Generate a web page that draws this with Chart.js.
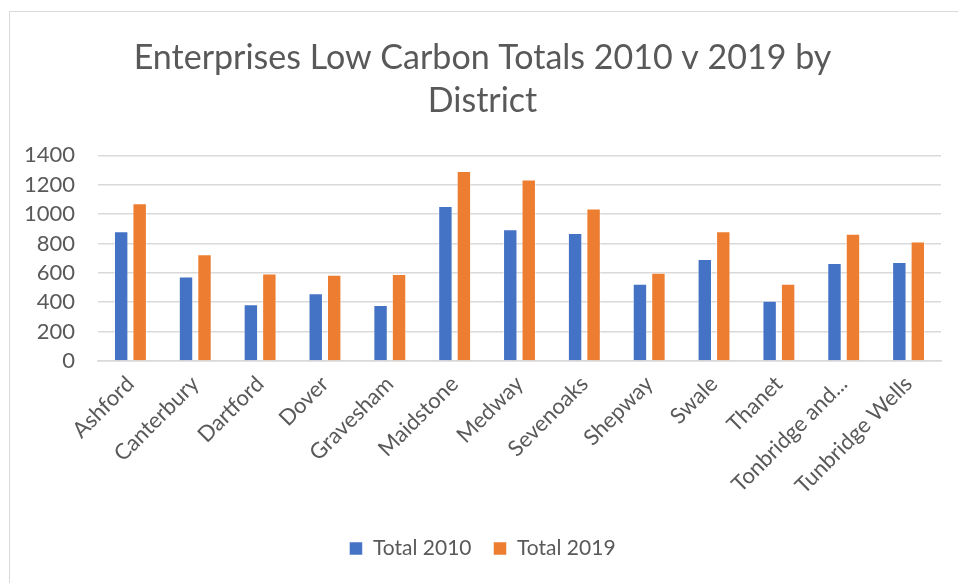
<!DOCTYPE html>
<html>
<head>
<meta charset="utf-8">
<script src="https://cdn.jsdelivr.net/npm/chart.js@4"></script>
<style>
  html, body { margin: 0; padding: 0; background: #fff; }
  #wrap { position: relative; width: 958px; height: 583px; }
  #frame { position: absolute; left: 9px; top: 11px; width: 960px; height: 590px; border: 1px solid #d9d9d9; box-sizing: border-box; }
  canvas { position: absolute; left: 0; top: 0; }
</style>
</head>
<body>
<div id="wrap">
  <div id="frame"></div>
  <canvas id="chart" width="958" height="583"></canvas>
</div>
<script>
const districts = ['Ashford', 'Canterbury', 'Dartford', 'Dover', 'Gravesham', 'Maidstone', 'Medway',
  'Sevenoaks', 'Shepway', 'Swale', 'Thanet', 'Tonbridge and...', 'Tunbridge Wells'];
const total2010 = [883, 576, 387, 462, 382, 1056, 897, 872, 526, 694, 410, 667, 674];
const total2019 = [1074, 726, 596, 587, 592, 1293, 1236, 1038, 601, 883, 526, 867, 813];
const yTicks = [0, 200, 400, 600, 800, 1000, 1200, 1400];

const textColor = '#595959';
const font = 'Lato';

const ctx = document.getElementById('chart').getContext('2d');
new Chart(ctx, {
  type: 'bar',
  data: {
    labels: districts,
    datasets: [
      {
        label: 'Total 2010',
        data: total2010,
        backgroundColor: '#4472C4',
        borderColor: 'rgba(255,255,255,0.5)',
        borderWidth: 1,
        barPercentage: 0.78,
        categoryPercentage: 0.57
      },
      {
        label: 'Total 2019',
        data: total2019,
        backgroundColor: '#ED7D31',
        borderColor: 'rgba(255,255,255,0.5)',
        borderWidth: 1,
        barPercentage: 0.78,
        categoryPercentage: 0.57
      }
    ]
  },
  options: {
    responsive: false,
    animation: false,
    layout: { padding: { left: 24, right: 17, top: 36, bottom: 14 } },
    plugins: {
      title: {
        display: true,
        text: ['Enterprises Low Carbon Totals 2010 v 2019 by', 'District'],
        color: textColor,
        font: { family: font, size: 34, weight: 'normal', lineHeight: 1.27 },
        padding: { top: 0, bottom: 33 }
      },
      legend: {
        position: 'bottom',
        labels: {
          color: textColor,
          font: { family: font, size: 21 },
          boxWidth: 13,
          boxHeight: 13,
          padding: 22
        }
      },
      tooltip: { enabled: false }
    },
    scales: {
      y: {
        min: 0,
        max: 1400,
        afterBuildTicks: scale => { scale.ticks = yTicks.map(v => ({ value: v })); },
        afterFit: scale => { scale.width = 74; },
        border: { display: false },
        grid: { color: '#d9d9d9', lineWidth: 1.5, drawTicks: false },
        ticks: {
          color: textColor,
          font: { family: font, size: 22 },
          padding: 23,
          autoSkip: false,
          callback: v => String(v)
        }
      },
      x: {
        afterFit: scale => { scale.height = 155; },
        border: { color: '#d9d9d9', width: 1.5 },
        grid: { display: false },
        ticks: {
          color: textColor,
          font: { family: font, size: 22 },
          minRotation: 45,
          maxRotation: 45,
          autoSkip: false,
          padding: 2
        }
      }
    }
  }
});
</script>
</body>
</html>
